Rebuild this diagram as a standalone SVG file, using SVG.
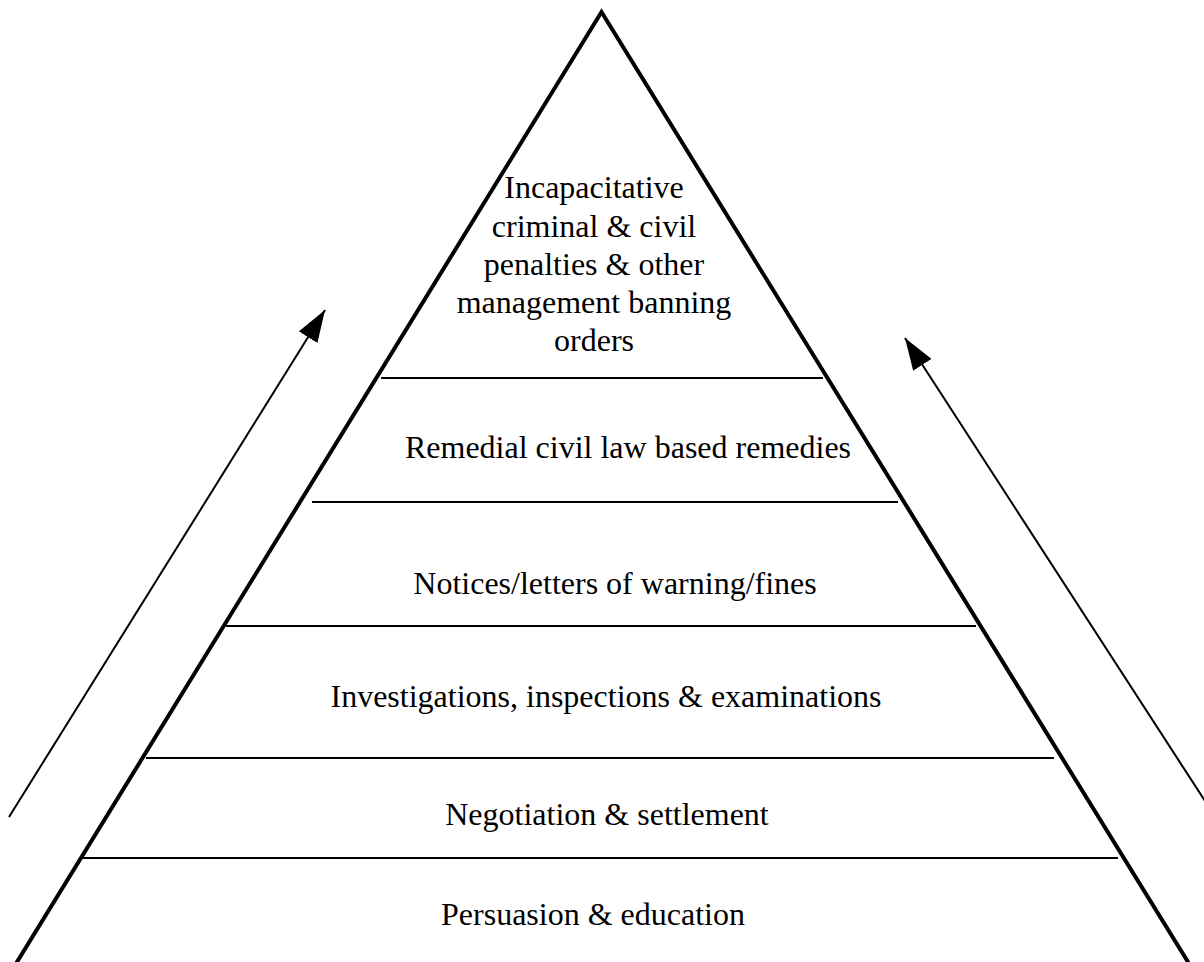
<svg xmlns="http://www.w3.org/2000/svg" width="1204" height="962" viewBox="0 0 1204 962">
<style>
.edge{fill:none;stroke:#000;stroke-width:4;stroke-linejoin:miter}
.tier{stroke:#000;stroke-width:2}
.arrow{stroke:#000;stroke-width:2;fill:none}
text{font-family:"Liberation Serif","Times New Roman",serif;font-size:32px;fill:#000;text-anchor:middle}
</style>
<defs>
<marker id="head" viewBox="0 0 32 22" refX="32" refY="11" markerWidth="32" markerHeight="22" markerUnits="userSpaceOnUse" orient="auto">
<path d="M0,0 L32,11 L0,22 z" fill="#000"/>
</marker>
</defs>
<rect width="1204" height="962" fill="#fff"/>
<g id="pyramid">
<polyline class="edge" points="14.5,966 601.5,12 1190.5,966"/>
</g>
<g id="connectors">
<line class="tier" x1="381" y1="378" x2="823" y2="378"/>
<line class="tier" x1="312" y1="502" x2="898" y2="502"/>
<line class="tier" x1="226" y1="626" x2="976" y2="626"/>
<line class="tier" x1="146" y1="758" x2="1054" y2="758"/>
<line class="tier" x1="82" y1="858" x2="1118" y2="858"/>
<line class="arrow" x1="9" y1="817" x2="325" y2="310" marker-end="url(#head)"/>
<line class="arrow" x1="1205" y1="801" x2="905" y2="338" marker-end="url(#head)"/>
</g>
<g id="tier-top">
<text x="594" y="198">Incapacitative</text>
<text x="594" y="237">criminal &amp; civil</text>
<text x="594" y="275">penalties &amp; other</text>
<text x="594" y="313">management banning</text>
<text x="594" y="351">orders</text>
</g>
<g id="tier-remedial"><text x="628" y="458">Remedial civil law based remedies</text></g>
<g id="tier-notices"><text x="615" y="594">Notices/letters of warning/fines</text></g>
<g id="tier-investigations"><text x="606" y="707">Investigations, inspections &amp; examinations</text></g>
<g id="tier-negotiation"><text x="607" y="825">Negotiation &amp; settlement</text></g>
<g id="tier-persuasion"><text x="593" y="925">Persuasion &amp; education</text></g>
</svg>
